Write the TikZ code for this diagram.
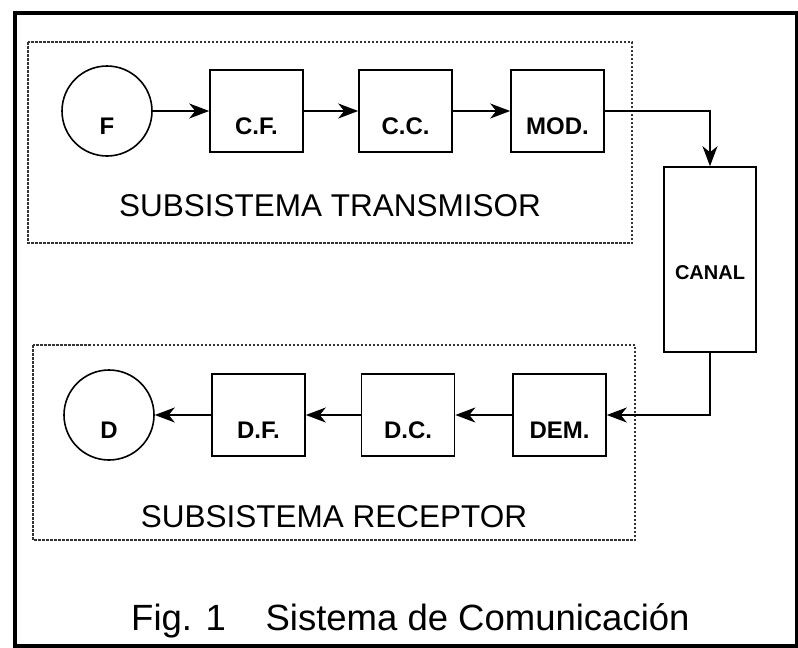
\documentclass[tikz,border=0pt]{standalone}
\usepackage{fontspec}
\setmainfont{Liberation Sans}
\usetikzlibrary{arrows.meta}

\begin{document}
\begin{tikzpicture}[x=1pt, y=-1pt, >={Stealth[length=20pt, width=15pt, inset=6pt]},
    blk/.style={draw, line width=1.6pt, inner sep=0pt, minimum width=93pt, minimum height=82pt,
        text height=64.6pt, text depth=17.4pt, font=\fontsize{24}{24}\selectfont\bfseries},
    src/.style={blk, circle, minimum size=90pt},
    grp/.style={draw=black!80, line width=1.2pt, dash pattern=on 2.5pt off 1.5pt},
    conn/.style={->, line width=1.7pt},
    sublabel/.style={font=\fontsize{31.5}{32}\selectfont}]
    \useasboundingbox (0,0) rectangle (798,648);

    % Outer frame
    \draw[line width=3.2pt] (15,13) rectangle (797,646);

    % Subsystem outlines
    \draw[grp] (28,42) rectangle (632,243);
    \draw[grp] (33,345) rectangle (635,540);

    % Transmitter chain
    \node[src] (F) at (107,111) {F};
    \node[blk] (CF) at (256.5,111) {C.F.};
    \node[blk] (CC) at (405.5,111) {C.C.};
    \node[blk] (MOD) at (557.5,111) {MOD.};
    \node[sublabel] (TXL) at (330,206) {SUBSISTEMA TRANSMISOR};

    % Channel
    \node[draw, line width=1.6pt, inner sep=0pt, minimum width=92pt, minimum height=185pt,
        text height=80.2pt, text depth=39.8pt, font=\fontsize{20}{20}\selectfont\bfseries]
        (CANAL) at (710,259.5) {CANAL};

    % Receiver chain
    \node[src] (D) at (109,415) {D};
    \node[blk] (DF) at (258.5,415) {D.F.};
    \node[blk] (DC) at (408,415) {D.C.};
    \node[blk] (DEM) at (559.5,415) {DEM.};
    \node[sublabel] (RXL) at (334,517) {SUBSISTEMA RECEPTOR};

    % Signal path
    \draw[conn] (F) -- (CF);
    \draw[conn] (CF) -- (CC);
    \draw[conn] (CC) -- (MOD);
    \draw[conn] (MOD) -| (CANAL);
    \draw[conn] (CANAL) |- (DEM);
    \draw[conn] (DEM) -- (DC);
    \draw[conn] (DC) -- (DF);
    \draw[conn] (DF) -- (D);

    % Caption
    \node[anchor=base west, inner sep=0pt, font=\fontsize{36.5}{37}\selectfont] (CAP) at (131,630)
        {Fig. 1\hspace{39.7pt}Sistema de Comunicación};
\end{tikzpicture}
\end{document}
